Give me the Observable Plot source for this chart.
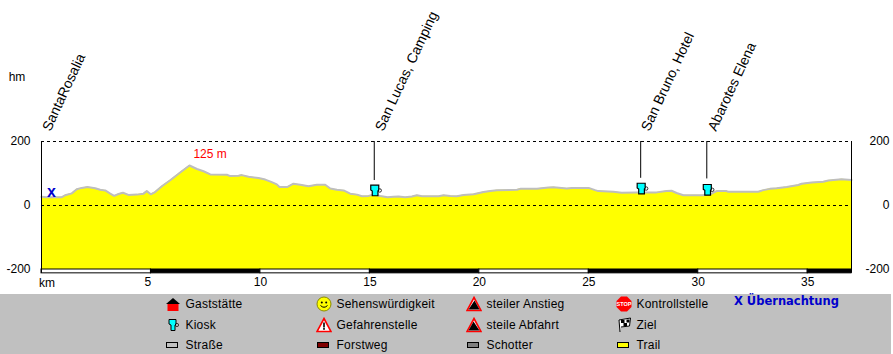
<!DOCTYPE html>
<html><head><meta charset="utf-8">
<script src="https://cdn.jsdelivr.net/npm/d3@7"></script>
<script src="https://cdn.jsdelivr.net/npm/@observablehq/plot@0.6"></script>
<style>
html,body{margin:0;padding:0;background:#fff;overflow:hidden}
body{width:893px;height:354px;position:relative;font-family:"Liberation Sans",Arial,sans-serif}
svg.plot{display:block}
#legend{position:absolute;left:0;top:293.5px;width:891px;height:61px;background:#c0c0c0;color:#000;font-size:12px}
#legend .it{position:absolute;white-space:nowrap;line-height:14px}
#legend svg{position:absolute;width:16px;height:16px}
#night{position:absolute;left:734px;top:0px;font:bold 11.5px "DejaVu Sans",sans-serif;color:#0000cc;line-height:14px}
</style></head><body>
<div id="chart"></div>
<div id="legend"></div>
<script>
const kmValues = [0,.24,.93,1.08,1.39,1.61,1.84,2.10,2.45,2.68,2.91,3.14,3.32,3.52,3.72,3.97,4.36,4.66,4.81,4.99,5.19,5.50,5.88,6.41,6.76,7.10,7.40,7.71,8.47,8.62,9.00,9.15,9.46,9.91,10.22,10.52,10.75,10.87,11.24,11.51,11.82,12.20,12.58,12.96,13.19,13.49,13.80,14.10,14.41,14.64,14.94,15.17,15.47,15.81,16.08,16.31,16.61,16.92,17.15,17.38,18.14,18.37,18.67,18.97,19.28,19.74,20.19,20.50,20.80,21.72,21.87,22.63,23.16,23.39,24.00,24.23,24.99,25.29,25.43,25.89,26.12,26.50,27.18,28.10,28.55,28.78,29.01,29.32,30.23,30.61,30.84,31.29,31.37,32.74,32.97,33.27,33.58,34.04,34.57,34.72,35.18,35.71,35.94,36.55,37];
const elevation = [27,26,26,32,38,51,55,58,54,49,47,37,30,36,40,33,34,37,45,35,42,60,79,107,125,114,107,97,96,92,93,95,90,86,81,73,66,58,58,68,65,60,65,65,53,49,47,37,34,29,30,34,30,26,27,28,26,28,32,29,29,32,30,29,33,35,42,45,48,49,52,52,56,57,53,55,55,48,45,44,43,40,41,41,45,46,39,32,32,37,45,45,43,43,48,52,54,58,64,68,72,74,78,82,80];
const profile = kmValues.map((km,i)=>({km,ele:elevation[i]}));

const stripStart = [0,5,10,15,20,25,30,35];
const stripEnd = [5,10,15,20,25,30,35,37];
const stripFill = ["white","black","white","black","white","black","white","black"];
const strip = stripStart.map((a,i)=>({a,b:stripEnd[i],f:stripFill[i]}));

const stopNames = ["San Lucas, Camping","San Bruno, Hotel","Abarotes Elena"];
const stopKm = [15.2,27.37,30.39];
const stopStemEnd = [78,85,83];
const stopCupEle = [47,53,49];
const stops = stopNames.map((n,i)=>({n,km:stopKm[i],end:stopStemEnd[i],cup:stopCupEle[i]}));

const labelNames = ["SantaRosalia","San Lucas, Camping","San Bruno, Hotel","Abarotes Elena"];
const labelKm = [0.22,15.42,27.58,30.62];
const labels = labelNames.map((n,i)=>({n,km:labelKm[i]}));

const xTicks = [10,15,20,25,30,35];
const yTicks = [-200,0,200];

const font = "Liberation Sans, Arial, sans-serif";
const cupSvg = `<svg xmlns='http://www.w3.org/2000/svg' width='16' height='16' viewBox='0 0 16 16'><circle cx='12.500' cy='8' r='1.700' fill='white' stroke='black' stroke-width='.8'/><path d='M3.500 2.700H11.500V7.500L10.700 8.500V13.300H5V8.500L3.500 7.500Z' fill='#00ffff' stroke='black' stroke-width='1.200'/></svg>`;
const cupUrl = "data:image/svg+xml," + encodeURIComponent(cupSvg);

const plot = Plot.plot({
  width: 893, height: 293,
  marginLeft: 41, marginRight: 42, marginTop: 141, marginBottom: 24,
  x: {domain:[0,37]}, y: {domain:[-200,200]},
  style: {fontFamily: font, fontSize: "12px", color:"#000", background:"transparent", overflow:"visible"},
  marks: [
    Plot.areaY(profile,{x:"km",y1:-200,y2:"ele",fill:"#ffff00"}),
    Plot.line(profile,{x:"km",y:"ele",stroke:"#bebebe",strokeWidth:2}),
    Plot.ruleY([0,200],{stroke:"black",strokeDasharray:"3,3",strokeWidth:1}),
    Plot.rect(strip,{x1:"a",x2:"b",y1:-200,y2:-212,fill:d=>d.f,stroke:"black",strokeWidth:1}),
    Plot.ruleX([0,37],{y1:-212,y2:200,stroke:"black",strokeWidth:1}),
    Plot.ruleX(stops,{x:"km",y1:"end",y2:200,stroke:"black",strokeWidth:1}),
    Plot.image(stops,{x:"km",y:"cup",src:()=>cupUrl,width:16,height:16,dx:1}),
    Plot.axisY({anchor:"left",ticks:yTicks,tickSize:0,tickPadding:11,label:null,tickFormat:d=>String(d)}),
    Plot.axisY({anchor:"right",ticks:yTicks,tickSize:0,tickPadding:38,textAnchor:"end",label:null,tickFormat:d=>String(d)}),
    Plot.axisX({ticks:xTicks,tickSize:0,tickPadding:8,label:null}),
    Plot.axisX({ticks:[5],tickSize:0,tickPadding:8,label:null,dx:-3}),
    Plot.text(["km"],{x:[0.25],y:[-200],dy:14,fontSize:12,fill:"black"}),
    Plot.text(["hm"],{x:[-1.5],y:[401],textAnchor:"start",fontSize:12,fill:"black"}),
    Plot.text(["125 m"],{x:[7.7],y:[160],fontSize:12,fill:"#ff0000"}),
    Plot.text(["x"],{x:[0.45],y:[42],fontSize:16,fontWeight:"bold",fill:"#0000cc"}),
    Plot.text(labels,{x:"km",y:236,text:"n",rotate:-65,textAnchor:"start",lineAnchor:"middle",fontSize:14,fill:"black"})
  ]
});
document.getElementById("chart").append(plot);

const legendLabels = ["Gaststätte","Kiosk","Straße","Sehenswürdigkeit","Gefahrenstelle","Forstweg","steiler Anstieg","steile Abfahrt","Schotter","Kontrollstelle","Ziel","Trail"];
const tri = (inner)=>`<path d="M8 1.500L15 14.500H1Z" fill="white" stroke="#ff0000" stroke-width="1.600"/>${inner}`;
const bar = c=>`<rect x="1.500" y="5.500" width="11" height="5" fill="${c}" stroke="black"/>`;
const legendIcons = [
 `<path d="M1 8L8 2L15 8Z" fill="black"/><rect x="2.500" y="8" width="11" height="7" fill="#ff0000"/>`,
 `<path d="M4 2.500H11V7L10 8V13.500H6V8L4 7Z" fill="#00ffff" stroke="black"/><circle cx="12" cy="8" r="1.600" fill="none" stroke="black" stroke-width=".7"/>`,
 bar("none"),
 `<circle cx="8" cy="8" r="7" fill="#ffff00" stroke="#8a8a00"/><circle cx="5.800" cy="6.500" r="1" fill="black"/><circle cx="10.200" cy="6.500" r="1" fill="black"/><path d="M4.500 9.500Q8 13 11.500 9.500" fill="none" stroke="black"/>`,
 tri(`<rect x="7.200" y="5.500" width="1.600" height="5" fill="black"/><rect x="7.200" y="11" width="1.600" height="1.800" fill="black"/>`),
 bar("#800000"),
 tri(`<path d="M2.500 13.500L8.500 4.500L13.500 13.500Z" fill="black"/>`),
 tri(`<path d="M2.500 13.500L7.500 4.500L13.500 13.500Z" fill="black"/>`),
 bar("#808080"),
 `<path d="M5 0.500H11L15.500 5V11L11 15.500H5L0.500 11V5Z" fill="#ff0000"/><text x="8" y="10" font-size="5.500" font-weight="bold" fill="white" text-anchor="middle" font-family="Liberation Sans">STOP</text>`,
 `<path d="M4 15L3 3L14.500 1L13.500 9L5 10" fill="white" stroke="black"/><rect x="5" y="3" width="3.500" height="3" fill="black"/><rect x="10.500" y="2.500" width="3" height="3" fill="black"/><rect x="7.500" y="6" width="3.500" height="3" fill="black"/>`,
 bar("#ffff00")
];
const colX = [172,323,473,623], rowY = [10.5,31,51];
const legend = d3.select("#legend");
legendLabels.forEach((t,i)=>{
  const c = Math.floor(i/3), r = i%3;
  legend.append("div").attr("class","it").style("left",(colX[c]+13.5)+"px").style("top",(rowY[r]-7)+"px").style("letter-spacing",".22px").text(t);
  legend.append("svg").attr("viewBox","0 0 16 16").style("left",(colX[c]-7)+"px").style("top",(rowY[r]-8)+"px").html(legendIcons[i]);
});
legend.append("div").attr("id","night").text("X Übernachtung");
</script>
</body></html>
